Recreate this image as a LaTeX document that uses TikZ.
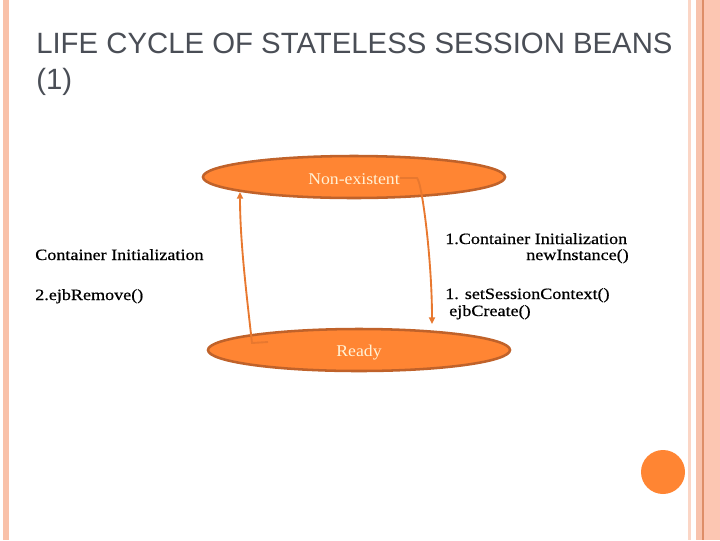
\documentclass[tikz,border=0pt]{standalone}
\usepackage{fontspec}
\setmainfont{Liberation Serif}
\newfontfamily\titlefont{Liberation Sans}
\newfontfamily\bodyfont[FakeStretch=1.15,FakeBold=0.6]{Liberation Serif}
\newfontfamily\ellfont[FakeStretch=1.08]{Liberation Serif}
\usetikzlibrary{shapes.geometric,arrows.meta}
\definecolor{ellfill}{HTML}{FF8533}
\definecolor{elldraw}{HTML}{C0622A}
\definecolor{arrcol}{HTML}{E8782F}
\definecolor{titlecol}{HTML}{4A4E56}
\definecolor{stripeA}{HTML}{F9C1A9}
\definecolor{stripeB}{HTML}{FBD6C6}
\definecolor{stripeC}{HTML}{F8C3AD}
\definecolor{stripeD}{HTML}{FCC6B2}
\definecolor{stripeLine}{HTML}{DE8E68}
\definecolor{elltext}{HTML}{FFF2D6}
\tikzset{
  stateell/.style={ellipse, draw=elldraw, fill=ellfill, line width=1.9pt, inner sep=0pt,
    minimum width=226.5pt, minimum height=31.5pt},
  elltxt/.style={inner sep=0pt, text=elltext, font=\ellfont\fontsize{12.3pt}{14pt}\selectfont},
  lbl/.style={anchor=base west, inner sep=0pt, font=\bodyfont\fontsize{11.8pt}{14pt}\selectfont},
  lblr/.style={anchor=base east, inner sep=0pt, font=\bodyfont\fontsize{11.8pt}{14pt}\selectfont},
  ttl/.style={anchor=base west, inner sep=0pt, text=titlecol, font=\titlefont\fontsize{22pt}{26pt}\selectfont},
  conn/.style={draw=arrcol, line width=1.4pt, -{Triangle[length=5pt,width=4.5pt]}},
}
\begin{document}
\begin{tikzpicture}[x=0.75pt,y=-0.75pt]
\useasboundingbox (0,0) rectangle (720,540);
\fill[white] (0,0) rectangle (720,540);
% borders
\fill[stripeA] (3,0) rectangle (9,540);
\fill[stripeB] (688,0) rectangle (691,540);
\fill[stripeC] (696,0) rectangle (702,540);
\fill[stripeLine] (702,0) rectangle (703.5,540);
\fill[stripeD] (703.5,0) rectangle (720,540);
% decorative circle
\fill[ellfill] (663,472) circle (22);
% title
\node[ttl] (t1) at (36,53) {LIFE CYCLE OF STATELESS SESSION BEANS};
\node[ttl] (t2) at (36,89) {(1)};
% states
\node[stateell] (ne) at (354,177) {};
\node[elltxt] (netxt) at (354,179) {Non-existent};
\node[stateell] (rd) at (359,350) {};
\node[elltxt] (rdtxt) at (359,352.5) {Ready};
% connector endpoints
\coordinate (neText) at (400,178);
\coordinate (neIn) at (240,192);
\coordinate (rdIn) at (268,342);
\coordinate (rdTop) at (432,324);
\draw[conn] (rdIn) -- (252,343) .. controls (246,290) and (240,240) .. (neIn);
\draw[conn] (neText) -- (417,178) .. controls (422,182) and (432,260) .. (rdTop);
% labels
\node[lbl] (l1) at (35,260) {Container Initialization};
\node[lbl] (l2) at (35,300) {2.ejbRemove()};
\node[lbl] (r1) at (445,244) {1.Container Initialization};
\node[lblr] (r2) at (629,260) {newInstance()};
\node[lbl] (r3) at (445,299) {1. setSessionContext()};
\node[lbl] (r4) at (449,316) {ejbCreate()};
\end{tikzpicture}
\end{document}
